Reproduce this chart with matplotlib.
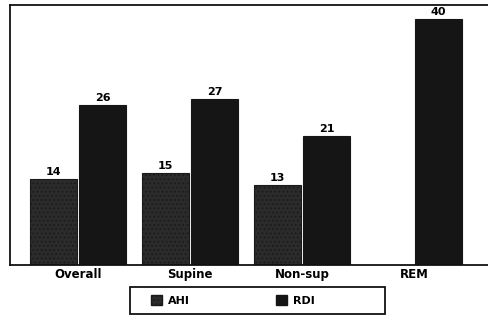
import matplotlib
matplotlib.use("Agg")
import matplotlib.pyplot as plt
import numpy as np
from matplotlib.patches import Patch, Rectangle

categories = ["Overall", "Supine", "Non-sup", "REM"]
ahi = [14, 15, 13, None]
rdi = [26, 27, 21, 40]

plt.rcParams['hatch.color'] = '#b0b0b0'
plt.rcParams['hatch.linewidth'] = 0.7

fig = plt.figure(figsize=(4.88, 3.18), dpi=100)
ax = fig.add_axes([0.0205, 0.1667, 0.9795, 0.8173])

x = np.arange(len(categories))
w = 0.42
for i, v in enumerate(ahi):
    if v is None:
        continue
    ax.bar(x[i] - w/2 - 0.01, v, width=w, facecolor='#2b2b2b', edgecolor='#1a1a1a',
           hatch='....', linewidth=0.8)
    ax.text(x[i] - w/2 - 0.01, v + 0.3, str(v), ha='center', va='bottom',
            fontsize=8, fontweight='bold')
for i, v in enumerate(rdi):
    ax.bar(x[i] + w/2 + 0.01, v, width=w, facecolor='#151515', edgecolor='#151515',
           linewidth=0.8)
    ax.text(x[i] + w/2 + 0.01, v + 0.3, str(v), ha='center', va='bottom',
            fontsize=8, fontweight='bold')

ax.set_xlim(-0.61, 3.66)
ax.set_ylim(0, 42.3)
ax.set_yticks([])
ax.set_xticks(x)
ax.set_xticklabels(categories, fontsize=8.5, fontweight='bold')
ax.tick_params(axis='x', length=0, pad=2)
for s in ['left', 'top', 'bottom']:
    ax.spines[s].set_linewidth(1.3)
    ax.spines[s].set_color('#111111')
ax.spines['right'].set_visible(False)

fig.patches.append(Rectangle((0.266, 0.0126), 0.5225, 0.085, transform=fig.transFigure,
                             facecolor='white', edgecolor='#111111', linewidth=1.3,
                             zorder=0))

handles = [Patch(facecolor='#2b2b2b', edgecolor='#1a1a1a', hatch='....', label='AHI'),
           Patch(facecolor='#151515', edgecolor='#151515', label='RDI')]
leg = fig.legend(handles=handles, loc='center', bbox_to_anchor=(0.477, 0.055),
                 ncol=2, frameon=False,
                 handlelength=1.0, handleheight=1.0, columnspacing=7.8,
                 handletextpad=0.5, borderpad=0.3, prop={'weight': 'bold', 'size': 8})

fig.savefig("out.png", dpi=100)
